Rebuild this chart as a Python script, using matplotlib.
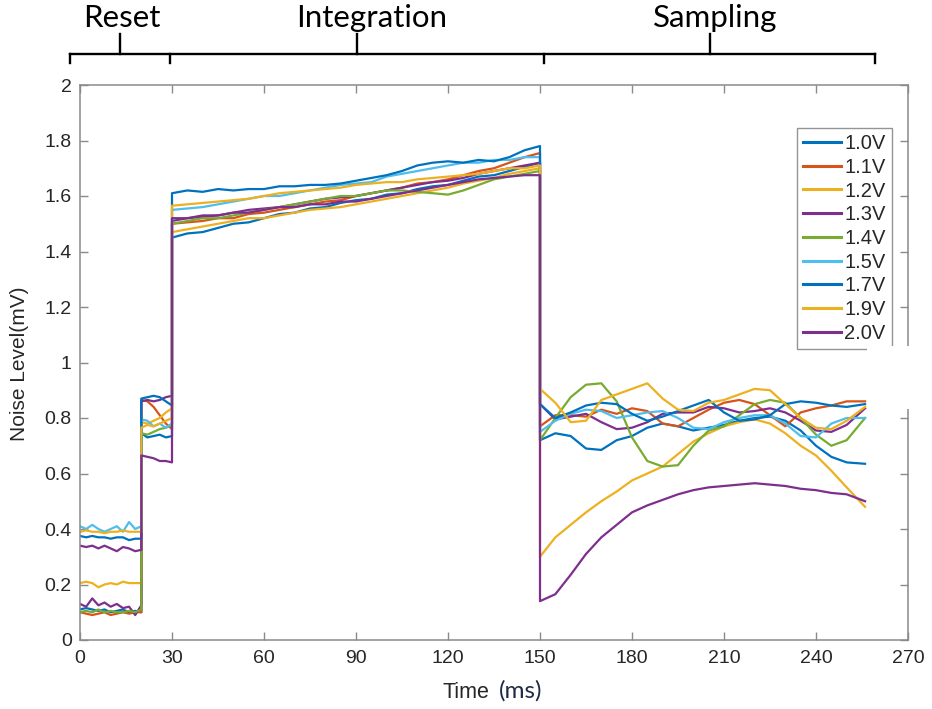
import matplotlib
matplotlib.use("Agg")
import matplotlib.pyplot as plt
import matplotlib.transforms as mtrans
from matplotlib.lines import Line2D
from matplotlib.patches import Rectangle

# ---------------- data ----------------
time_ms = [0, 2, 4, 6, 8, 10, 12, 14, 16, 18, 20,
           20, 22, 24, 26, 28, 30,
           30, 35, 40, 45, 50, 55, 60, 65, 70, 75, 80, 85, 90, 95, 100, 105,
           110, 115, 120, 125, 130, 135, 140, 145, 150,
           150, 155, 160, 165, 170, 175, 180, 185, 190, 195, 200, 205, 210,
           215, 220, 225, 230, 235, 240, 245, 250, 256]

labels = ["1.0V", "1.1V", "1.2V", "1.3V", "1.4V", "1.5V", "1.7V", "1.9V", "2.0V"]
colors = ["#0072BD", "#D95319", "#EDB120", "#7E2F8E", "#77AC30",
          "#4DBEEE", "#0072BD", "#EDB120", "#7E2F8E"]

v_1_0 = ([0.11, 0.115, 0.11, 0.105, 0.11, 0.10, 0.105, 0.11, 0.10, 0.105, 0.10]
         + [0.745, 0.73, 0.735, 0.74, 0.73, 0.735]
         + [1.45, 1.465, 1.47, 1.485, 1.50, 1.505, 1.52, 1.535, 1.54, 1.555, 1.56, 1.575,
            1.585, 1.59, 1.605, 1.61, 1.625, 1.635, 1.64, 1.655, 1.67, 1.675, 1.69, 1.705, 1.72]
         + [0.72, 0.745, 0.735, 0.69, 0.685, 0.72, 0.735, 0.765, 0.78, 0.77, 0.755,
            0.765, 0.775, 0.79, 0.80, 0.805, 0.79, 0.755, 0.70, 0.66, 0.64, 0.635])
v_1_1 = ([0.10, 0.095, 0.09, 0.095, 0.10, 0.09, 0.095, 0.10, 0.095, 0.10, 0.10]
         + [0.865, 0.86, 0.84, 0.81, 0.78, 0.76]
         + [1.50, 1.505, 1.51, 1.52, 1.52, 1.535, 1.54, 1.55, 1.56, 1.57, 1.58, 1.585,
            1.60, 1.61, 1.62, 1.63, 1.645, 1.65, 1.66, 1.675, 1.69, 1.70, 1.72, 1.74, 1.755]
         + [0.77, 0.81, 0.81, 0.805, 0.83, 0.815, 0.835, 0.825, 0.78, 0.77, 0.80,
            0.83, 0.855, 0.865, 0.85, 0.81, 0.77, 0.82, 0.835, 0.845, 0.86, 0.86])
v_1_2 = ([0.205, 0.21, 0.205, 0.19, 0.20, 0.205, 0.20, 0.21, 0.205, 0.205, 0.205]
         + [0.785, 0.78, 0.79, 0.80, 0.82, 0.835]
         + [1.47, 1.48, 1.49, 1.50, 1.51, 1.52, 1.52, 1.53, 1.54, 1.55, 1.555, 1.56,
            1.57, 1.58, 1.59, 1.60, 1.61, 1.62, 1.63, 1.645, 1.655, 1.665, 1.68, 1.69, 1.70]
         + [0.30, 0.37, 0.415, 0.46, 0.50, 0.535, 0.575, 0.60, 0.625, 0.67, 0.715,
            0.745, 0.77, 0.785, 0.795, 0.78, 0.745, 0.70, 0.665, 0.61, 0.55, 0.48])
v_1_3 = ([0.13, 0.12, 0.15, 0.125, 0.135, 0.12, 0.13, 0.115, 0.12, 0.09, 0.125]
         + [0.86, 0.865, 0.86, 0.865, 0.875, 0.88]
         + [1.51, 1.52, 1.525, 1.53, 1.54, 1.55, 1.555, 1.56, 1.57, 1.58, 1.59, 1.595,
            1.60, 1.61, 1.62, 1.63, 1.64, 1.65, 1.655, 1.665, 1.68, 1.69, 1.70, 1.71, 1.72]
         + [0.85, 0.795, 0.805, 0.815, 0.785, 0.76, 0.765, 0.785, 0.815, 0.82, 0.82,
            0.84, 0.835, 0.82, 0.825, 0.835, 0.82, 0.79, 0.755, 0.75, 0.775, 0.835])
v_1_4 = ([0.10, 0.105, 0.10, 0.11, 0.10, 0.105, 0.10, 0.10, 0.105, 0.10, 0.11]
         + [0.745, 0.74, 0.75, 0.76, 0.765, 0.775]
         + [1.50, 1.51, 1.52, 1.52, 1.53, 1.54, 1.55, 1.56, 1.57, 1.58, 1.59, 1.60,
            1.60, 1.61, 1.62, 1.62, 1.615, 1.61, 1.605, 1.62, 1.64, 1.66, 1.67, 1.68, 1.69]
         + [0.72, 0.80, 0.875, 0.92, 0.925, 0.86, 0.73, 0.645, 0.625, 0.63, 0.70,
            0.755, 0.77, 0.81, 0.85, 0.865, 0.855, 0.80, 0.74, 0.70, 0.72, 0.80])
v_1_5 = ([0.41, 0.40, 0.415, 0.40, 0.39, 0.40, 0.41, 0.39, 0.425, 0.40, 0.41]
         + [0.795, 0.79, 0.77, 0.78, 0.765, 0.78]
         + [1.55, 1.555, 1.56, 1.57, 1.58, 1.59, 1.60, 1.60, 1.61, 1.62, 1.63, 1.64,
            1.645, 1.65, 1.67, 1.68, 1.69, 1.70, 1.71, 1.72, 1.72, 1.73, 1.73, 1.74, 1.74]
         + [0.75, 0.79, 0.815, 0.83, 0.825, 0.80, 0.81, 0.82, 0.825, 0.80, 0.765,
            0.76, 0.785, 0.80, 0.81, 0.81, 0.78, 0.735, 0.73, 0.78, 0.80, 0.80])
v_1_7 = ([0.375, 0.37, 0.375, 0.37, 0.37, 0.365, 0.37, 0.37, 0.36, 0.365, 0.365]
         + [0.87, 0.875, 0.88, 0.875, 0.86, 0.845]
         + [1.61, 1.62, 1.615, 1.625, 1.62, 1.625, 1.625, 1.635, 1.635, 1.64, 1.64, 1.645,
            1.655, 1.665, 1.675, 1.69, 1.71, 1.72, 1.725, 1.72, 1.73, 1.725, 1.74, 1.765, 1.78]
         + [0.85, 0.80, 0.82, 0.845, 0.855, 0.85, 0.815, 0.79, 0.805, 0.825, 0.845,
            0.865, 0.82, 0.79, 0.795, 0.81, 0.85, 0.86, 0.855, 0.845, 0.84, 0.85])
v_1_9 = ([0.39, 0.395, 0.39, 0.39, 0.385, 0.39, 0.39, 0.395, 0.39, 0.39, 0.39]
         + [0.765, 0.775, 0.77, 0.78, 0.79, 0.80]
         + [1.565, 1.57, 1.575, 1.58, 1.585, 1.59, 1.60, 1.61, 1.615, 1.62, 1.625, 1.63,
            1.64, 1.645, 1.65, 1.65, 1.66, 1.665, 1.67, 1.675, 1.68, 1.69, 1.70, 1.70, 1.71]
         + [0.905, 0.855, 0.785, 0.79, 0.865, 0.885, 0.905, 0.925, 0.87, 0.83, 0.825,
            0.855, 0.865, 0.885, 0.905, 0.90, 0.85, 0.80, 0.765, 0.76, 0.79, 0.84])
v_2_0 = ([0.34, 0.335, 0.34, 0.33, 0.34, 0.33, 0.32, 0.335, 0.33, 0.32, 0.325]
         + [0.665, 0.66, 0.655, 0.645, 0.645, 0.64]
         + [1.52, 1.52, 1.53, 1.53, 1.54, 1.54, 1.55, 1.56, 1.56, 1.57, 1.57, 1.58,
            1.58, 1.59, 1.60, 1.61, 1.62, 1.63, 1.64, 1.65, 1.66, 1.665, 1.67, 1.675, 1.675]
         + [0.14, 0.165, 0.235, 0.31, 0.37, 0.415, 0.46, 0.485, 0.505, 0.525, 0.54,
            0.55, 0.555, 0.56, 0.565, 0.56, 0.555, 0.545, 0.54, 0.53, 0.525, 0.50])

series = [v_1_0, v_1_1, v_1_2, v_1_3, v_1_4, v_1_5, v_1_7, v_1_9, v_2_0]

x_ticks = [0, 30, 60, 90, 120, 150, 180, 210, 240, 270]
y_ticks = [0, 0.2, 0.4, 0.6, 0.8, 1, 1.2, 1.4, 1.6, 1.8, 2]
y_ticklabels = ["0", "0.2", "0.4", "0.6", "0.8", "1", "1.2", "1.4", "1.6", "1.8", "2"]

phase_names = ["Reset", "Integration", "Sampling"]

# ---------------- figure ----------------
W, H = 932, 709
fig = plt.figure(figsize=(W / 100, H / 100), dpi=100)
ax_l, ax_r, ax_t, ax_b = 80, 908, 85, 640
ax = fig.add_axes([ax_l / W, 1 - ax_b / H, (ax_r - ax_l) / W, (ax_b - ax_t) / H])

for vals, lab, col in zip(series, labels, colors):
    ax.plot(time_ms, vals, color=col, lw=1.6, label=lab, solid_joinstyle="round")

ax.set_xlim(0, 270)
ax.set_ylim(0, 2)
ax.set_xticks(x_ticks)
ax.set_yticks(y_ticks)
ax.set_yticklabels(y_ticklabels)

spine_col = "#8a8a8a"
for s in ax.spines.values():
    s.set_color(spine_col)
    s.set_linewidth(1.1)
ax.tick_params(direction="in", length=6, width=1.0, color=spine_col,
               top=True, right=True, labelcolor="#262626", labelsize=14)
ax.tick_params(axis="x", pad=7)
ax.tick_params(axis="y", pad=6)
for t in ax.get_xticklabels() + ax.get_yticklabels():
    t.set_family("Liberation Sans")

leg = ax.legend(loc="upper left", bbox_to_anchor=((797 - ax_l) / (ax_r - ax_l),
                                                   (ax_b - 128) / (ax_b - ax_t)),
                prop={"family": "Liberation Sans", "size": 14.5},
                frameon=True, fancybox=False, handlelength=1.9, handletextpad=0.15,
                labelspacing=0.235, borderpad=0.3, borderaxespad=0.0)
leg.get_frame().set_edgecolor("#7a7a7a")
leg.get_frame().set_linewidth(1.0)
for t in leg.get_texts():
    t.set_color("#262626")
for h in leg.get_lines():
    h.set_linewidth(2.2)

# white patch (gap in right spine)
fig.add_artist(Rectangle((867 / W, 1 - 409 / H), 50 / W, 63 / H,
                         transform=fig.transFigure, facecolor="white",
                         edgecolor="none", zorder=5))

# axis labels
fig.text(20 / W, 1 - 364 / H, "Noise Level(mV)", rotation=90, ha="center", va="center",
         family="Liberation Sans", fontsize=15, color="#262626")
fig.text(489 / W, 1 - 698 / H, "Time", ha="right", va="baseline",
         family="Liberation Sans", fontsize=15.5, color="#262626")
fig.text(499 / W, 1 - 698 / H, "(ms)", ha="left", va="baseline",
         family="Lato", fontsize=17.5, color="#1f2a44")

# phase bracket above the plot
bx = [-3.3, 29.2, 151.3, 259.2]          # bracket ends / dividers (ms)
bt = [13.0, 90.3, 205.4]                 # label ticks (ms)
tx = [13.5, 95.0, 207.0]                 # label centres (ms)
y_line, y_end, y_tick = 1 - 54 / H, 1 - 63 / H, 1 - 34 / H
btrans = mtrans.blended_transform_factory(ax.transData, fig.transFigure)
kw = dict(color="black", lw=1.7, transform=btrans, clip_on=False)
fig.add_artist(Line2D([bx[0], bx[-1]], [y_line, y_line], **kw))
for x in bx:
    fig.add_artist(Line2D([x, x], [y_line, y_end], **kw))
for x in bt:
    fig.add_artist(Line2D([x, x], [y_line, y_tick], **kw))
for x, name in zip(tx, phase_names):
    fig.text(x, 1 - 27 / H, name, transform=btrans, ha="center", va="baseline",
             family="Lato", fontsize=22.5, color="black")

fig.savefig("out.png", dpi=100)
